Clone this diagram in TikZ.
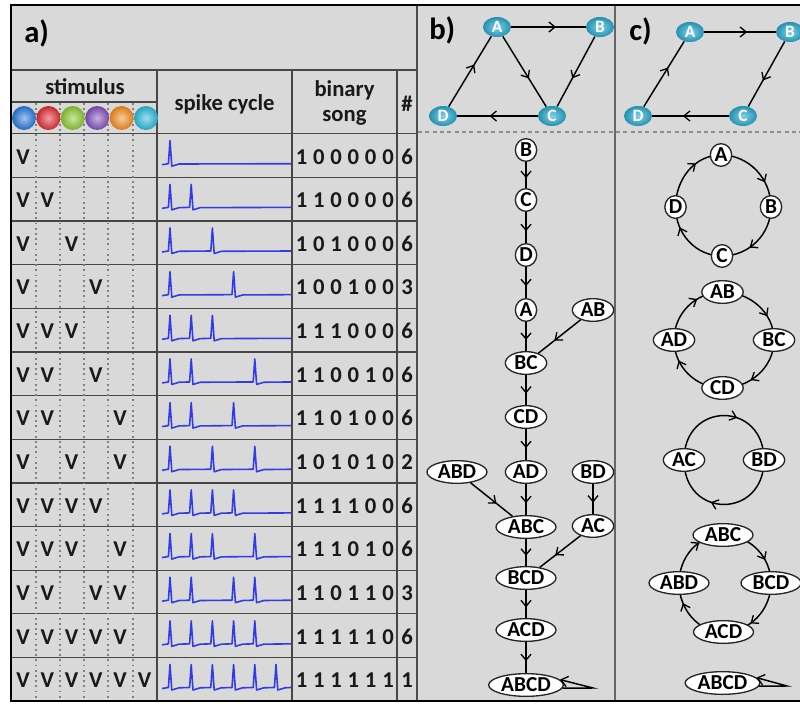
\documentclass[tikz,border=0pt]{standalone}
\usepackage{fontspec}
\setmainfont{Carlito}
\usetikzlibrary{shapes.geometric,arrows.meta,decorations.markings}

\definecolor{panelgrey}{RGB}{217,217,217}
\definecolor{spikeblue}{RGB}{50,60,230}
\definecolor{gcyan}{RGB}{45,180,220}
\definecolor{sblue}{RGB}{40,120,220}
\definecolor{sred}{RGB}{225,45,50}
\definecolor{sgreen}{RGB}{140,200,50}
\definecolor{spurple}{RGB}{130,80,185}
\definecolor{sorange}{RGB}{245,140,30}
\definecolor{scyan}{RGB}{40,185,220}

\pgfdeclarelayer{base}
\pgfdeclarelayer{wires}
\pgfsetlayers{base,wires,main}

\tikzset{
  tabline/.style={draw=black!72, line width=0.9pt},
  sepdots/.style={draw=black!50, line width=0.9pt, dash pattern=on 1.3pt off 2.6pt},
  tabtxt/.style={font=\fontsize{17}{19}\selectfont\bfseries, inner sep=0pt, anchor=base, text=black!90},
  paneltitle/.style={font=\fontsize{23}{25}\selectfont\bfseries, inner sep=0pt, anchor=base west},
  stimball/.style={circle, minimum size=18pt, inner sep=0pt, shading=radial,
    inner color=#1!45!white, outer color=#1!88!black},
  spikeline/.style={draw=spikeblue, line width=1.2pt, line join=round},
  gball/.style={ellipse, shading=radial, inner color=gcyan!60!white, outer color=gcyan!80!black,
    minimum width=21pt, minimum height=15pt,
    inner sep=0pt, text=white, font=\fontsize{13}{13}\selectfont\bfseries},
  tnode/.style={ellipse, draw=black!85, fill=white, line width=1pt, inner sep=0pt,
    minimum height=17pt, font=\fontsize{16}{16}\selectfont\bfseries},
  t1/.style={tnode, minimum width=16pt},
  t2/.style={tnode, minimum width=31pt},
  t3/.style={tnode, minimum width=45pt},
  t4/.style={tnode, minimum width=56pt},
  link/.style={draw=black, line width=1.1pt},
  barb/.style={-{Straight Barb[length=5pt,width=8pt,line width=1pt]}},
  midarr/.style={postaction={decorate}, decoration={markings,
    mark=at position #1 with {\arrow{Straight Barb[length=4.5pt,width=7.5pt,line width=1pt]}}}},
}

% one table row: #1 row index, #2 stimulus columns, #3 song digits, #4 count, #5 spike slots
\newcommand\tabrow[5]{%
  \pgfmathsetmacro\rowT{133.7+43.65*#1}
  \pgfmathsetmacro\rowB{-(\rowT+30.3)}
  \pgfmathsetmacro\spkB{-(\rowT+30)}
  \pgfmathsetmacro\spkP{-(\rowT+7)}
  \foreach \k in {#2}
    \node[tabtxt] (v#1-\k) at ({23+24.3*(\k-1)},\rowB) {V};
  \foreach \d [count=\j] in {#3}
    \node[tabtxt] (d#1-\j) at ({301.5+17.3*(\j-1)},\rowB) {\d};
  \node[tabtxt] (n#1) at (407,\rowB) {#4};
  \draw[spikeline] (162,\spkB-1)
    \foreach \s in {#5} {
      -- ({170+21.2*\s-1.6},\spkB)
      -- ({170+21.2*\s},\spkP)
      -- ({170+21.2*\s+1.8},\spkB-2.5)
      .. controls ({170+21.2*\s+5},\spkB-2.2) .. ({170+21.2*\s+9},\spkB-0.3)
    } -- (291,\spkB);
}

\begin{document}
\begin{tikzpicture}[x=0.75pt,y=0.75pt]
\clip (0,0) rectangle (800,-707);
\begin{pgfonlayer}{base}
\fill[white] (0,0) rectangle (800,-707);
\fill[panelgrey] (11,-5) rectangle (805,-701);
\end{pgfonlayer}

% ---------- panel a: table frame ----------
\draw[tabline, line width=1.6pt] (11,-70) -- (417,-70);
\draw[tabline] (11,-102) -- (157,-102);
\foreach \r in {0,...,12}
  \draw[tabline] (11,{-(133.7+43.65*\r)}) -- (417,{-(133.7+43.65*\r)});
\foreach \x in {157,292,397}
  \draw[tabline] (\x,-70) -- (\x,-701);
\foreach \x in {36,60,84,108,133}
  \draw[sepdots] (\x,-103) -- (\x,-701);

% panel separators and the dashed divider
\draw[draw=black!70, line width=1.5pt] (417,-5) -- (417,-701);
\draw[draw=black!60, line width=1.3pt] (615,-5) -- (615,-701);
\draw[draw=black!45, line width=0.9pt, dash pattern=on 3pt off 2.5pt] (418,-132) -- (800,-132);

% headers
\node[paneltitle] (ta) at (24,-42) {a)};
\node[paneltitle] (tb) at (429,-39) {b)};
\node[paneltitle] (tc) at (629,-40) {c)};
\node[tabtxt] (hstim) at (85,-94) {stimulus};
\node[tabtxt] (hspike) at (224.5,-110) {spike cycle};
\node[tabtxt] (hbin) at (344.5,-96.5) {binary};
\node[tabtxt] (hsong) at (344.5,-121.5) {song};
\node[tabtxt] (hnum) at (407,-111.5) {\#};

\foreach \i/\col in {0/sblue,1/sred,2/sgreen,3/spurple,4/sorange,5/scyan}
  \node[stimball=\col] (ball\i) at ({24+24.4*\i},-118) {};

% table rows
\tabrow{0}{1}{1,0,0,0,0,0}{6}{0}
\tabrow{1}{1,2}{1,1,0,0,0,0}{6}{0,1}
\tabrow{2}{1,3}{1,0,1,0,0,0}{6}{0,2}
\tabrow{3}{1,4}{1,0,0,1,0,0}{3}{0,3}
\tabrow{4}{1,2,3}{1,1,1,0,0,0}{6}{0,1,2}
\tabrow{5}{1,2,4}{1,1,0,0,1,0}{6}{0,1,4}
\tabrow{6}{1,2,5}{1,1,0,1,0,0}{6}{0,1,3}
\tabrow{7}{1,3,5}{1,0,1,0,1,0}{2}{0,2,4}
\tabrow{8}{1,2,3,4}{1,1,1,1,0,0}{6}{0,1,2,3}
\tabrow{9}{1,2,3,5}{1,1,1,0,1,0}{6}{0,1,2,4}
\tabrow{10}{1,2,4,5}{1,1,0,1,1,0}{3}{0,1,3,4}
\tabrow{11}{1,2,3,4,5}{1,1,1,1,1,0}{6}{0,1,2,3,4}
\tabrow{12}{1,2,3,4,5,6}{1,1,1,1,1,1}{1}{0,1,2,3,4,5}

% ---------- panel b ----------
\node[gball] (gbA) at (497,-27) {A};
\node[gball] (gbB) at (600,-27) {B};
\node[gball] (gbC) at (552,-116) {C};
\node[gball] (gbD) at (443,-116) {D};
\draw[link, midarr=0.6] (gbA) -- (gbB);
\draw[link, midarr=0.6] (gbB) -- (gbC);
\draw[link, midarr=0.6] (gbA) -- (gbC);
\draw[link, midarr=0.6] (gbC) -- (gbD);
\draw[link, midarr=0.6] (gbD) -- (gbA);

\node[t1] (bB) at (526,-150) {B};
\node[t1] (bC) at (526,-200) {C};
\node[t1] (bD) at (526,-255) {D};
\node[t1] (bA) at (526,-310) {A};
\node[t2] (bAB) at (593,-310) {AB};
\node[t2] (bBC) at (526,-363) {BC};
\node[t2] (bCD) at (526,-417) {CD};
\node[t3] (bABD) at (457,-472) {ABD};
\node[t2] (bAD) at (526,-472) {AD};
\node[t2] (bBD) at (593,-472) {BD};
\node[t3] (bABC) at (526,-527) {ABC};
\node[t2] (bAC) at (593,-526) {AC};
\node[t3] (bBCD) at (526,-578) {BCD};
\node[t3] (bACD) at (526,-630) {ACD};
\node[t4] (bABCD) at (526,-685) {ABCD};

\foreach \p/\q in {bB/bC,bC/bD,bD/bA,bA/bBC,bAB/bBC,bBC/bCD,bCD/bAD,bABD/bABC,
                   bAD/bABC,bBD/bAC,bABC/bBCD,bAC/bBCD,bBCD/bACD,bACD/bABCD}
  \draw[link, midarr=0.62] (\p) -- (\q);
\coordinate (bLoop) at (593,-688);
\draw[link, barb] (bABCD.-5) -- (bLoop) -- (bABCD.9);

% ---------- panel c ----------
\node[gball] (gcA) at (690,-32) {A};
\node[gball] (gcB) at (790,-32) {B};
\node[gball] (gcC) at (743,-116) {C};
\node[gball] (gcD) at (638,-116) {D};
\draw[link, midarr=0.6] (gcA) -- (gcB);
\draw[link, midarr=0.6] (gcB) -- (gcC);
\draw[link, midarr=0.6] (gcC) -- (gcD);
\draw[link, midarr=0.6] (gcD) -- (gcA);

% ring nodes; the rings run centre to centre underneath them
\node[t1] (cA) at (721,-155) {A};
\node[t1] (cB) at (771,-207) {B};
\node[t1] (cC) at (722,-256) {C};
\node[t1] (cD) at (675.5,-207) {D};

\node[t2] (cAB) at (722.5,-292) {AB};
\node[t2] (cBC) at (774,-340) {BC};
\node[t2] (cCD) at (722.5,-388) {CD};
\node[t2] (cAD) at (674,-340) {AD};

\node[t2] (cAC) at (684,-460) {AC};
\node[t2] (cBD) at (764,-460) {BD};

\node[t3] (cABC) at (723,-535) {ABC};
\node[t3] (cBCD) at (771,-583) {BCD};
\node[t3] (cACD) at (723.5,-632) {ACD};
\node[t3] (cABD) at (679,-583) {ABD};

\node[t4] (cABCD) at (722.5,-683) {ABCD};

\begin{pgfonlayer}{wires}
\foreach \p/\q/\r/\s in {cA/cB/cC/cD, cAB/cBC/cCD/cAD, cABC/cBCD/cACD/cABD} {
  \draw[link, midarr=0.68] (\p.center) to[out=0,in=90] (\q.center);
  \draw[link, midarr=0.62] (\q.center) to[out=-90,in=0] (\r.center);
  \draw[link, midarr=0.72] (\r.center) to[out=180,in=-90] (\s.center);
  \draw[link, midarr=0.65] (\s.center) to[out=90,in=180] (\p.center);
}
\draw[link, midarr=0.6] (cAC.center) to[out=90,in=90,looseness=1.9] (cBD.center);
\draw[link, midarr=0.6] (cBD.center) to[out=-90,in=-90,looseness=1.9] (cAC.center);
\end{pgfonlayer}

\coordinate (cLoop) at (787,-686);
\draw[link, barb] (cABCD.-5) -- (cLoop) -- (cABCD.9);

% outer frame
\draw[black, line width=2.2pt] (11,-5) rectangle (805,-701);
\end{tikzpicture}
\end{document}
